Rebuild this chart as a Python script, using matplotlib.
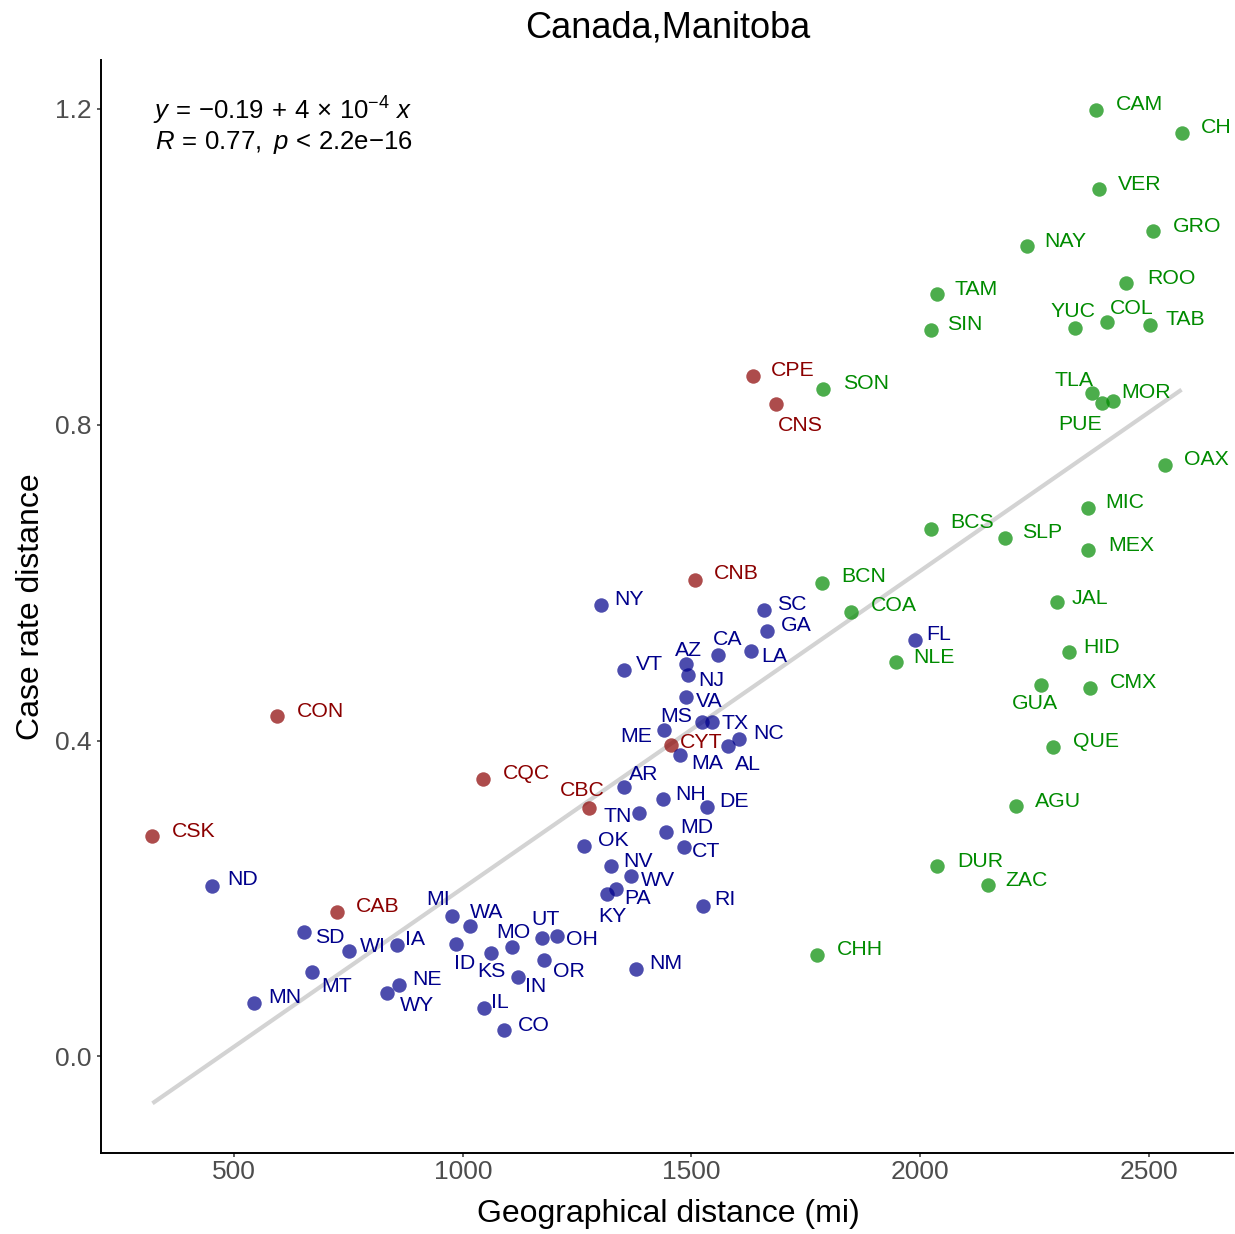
import numpy as np
import matplotlib
matplotlib.use("Agg")
import matplotlib.pyplot as plt

plt.rcParams["font.family"] = ["Liberation Sans", "DejaVu Sans"]
plt.rcParams["mathtext.fontset"] = "custom"
plt.rcParams["mathtext.rm"] = "Liberation Sans"
plt.rcParams["mathtext.it"] = "Liberation Sans:italic"

# Canadian provinces / territories
ca_names = ["CSK", "CON", "CAB", "CQC", "CBC", "CYT", "CNB", "CPE", "CNS"]
ca_geo = [321, 594, 725, 1043, 1275, 1456, 1507, 1634, 1686]
ca_rate = [0.279, 0.431, 0.183, 0.351, 0.315, 0.395, 0.604, 0.862, 0.826]

# US states
us_names = ["ND", "MN", "SD", "MT", "WI", "IA", "WY", "NE", "MI", "WA", "ID", "KS",
            "MO", "UT", "OH", "OR", "IN", "IL", "CO", "OK", "NV", "WV", "PA", "KY",
            "TN", "AR", "NH", "MD", "CT", "DE", "RI", "NM", "ME", "MA", "MS", "TX",
            "AL", "NC", "VA", "NJ", "AZ", "CA", "LA", "GA", "SC", "VT", "NY", "FL"]
us_geo = [452, 544, 653, 669, 750, 857, 835, 861, 977, 1016, 986, 1062,
          1108, 1172, 1205, 1178, 1121, 1047, 1091, 1264, 1323, 1367, 1334, 1316,
          1386, 1353, 1437, 1445, 1483, 1535, 1526, 1378, 1439, 1474, 1524, 1546,
          1581, 1605, 1489, 1493, 1489, 1559, 1631, 1666, 1658, 1353, 1303, 1990]
us_rate = [0.216, 0.068, 0.158, 0.107, 0.133, 0.141, 0.080, 0.090, 0.178, 0.165, 0.143, 0.131,
           0.139, 0.150, 0.152, 0.122, 0.101, 0.062, 0.033, 0.267, 0.241, 0.229, 0.212, 0.206,
           0.308, 0.341, 0.326, 0.284, 0.265, 0.316, 0.191, 0.111, 0.413, 0.382, 0.423, 0.423,
           0.393, 0.402, 0.455, 0.483, 0.497, 0.509, 0.513, 0.539, 0.566, 0.490, 0.572, 0.528]

# Mexican states
mx_names = ["CAM", "CH", "VER", "GRO", "NAY", "ROO", "YUC", "COL", "TAB", "TLA", "PUE",
            "MOR", "OAX", "MIC", "MEX", "BCS", "SLP", "JAL", "HID", "CMX", "GUA", "NLE",
            "BCN", "COA", "SON", "TAM", "SIN", "QUE", "AGU", "DUR", "ZAC", "CHH"]
mx_geo = [2384, 2572, 2391, 2509, 2233, 2450, 2340, 2408, 2502, 2377, 2397,
          2423, 2535, 2367, 2367, 2025, 2185, 2299, 2325, 2371, 2264, 1947,
          1785, 1850, 1787, 2036, 2025, 2290, 2209, 2038, 2148, 1774]
mx_rate = [1.199, 1.169, 1.098, 1.045, 1.026, 0.979, 0.923, 0.930, 0.926, 0.840, 0.828,
           0.830, 0.749, 0.695, 0.642, 0.668, 0.657, 0.575, 0.512, 0.467, 0.471, 0.499,
           0.600, 0.563, 0.845, 0.965, 0.920, 0.392, 0.317, 0.241, 0.217, 0.129]

# label nudges in pixels (dx right, dy up), default to the upper right of the point
DEFAULT_NUDGE = (18, 7)
NUDGE = {
    "CAM": (20, 7), "CH": (19, 8), "VER": (19, 7), "GRO": (20, 7), "ROO": (21, 7),
    "YUC": (-25, 18), "COL": (3, 16), "TAB": (16, 8), "TLA": (-38, 15),
    "PUE": (-43, -20), "MOR": (8, 11), "OAX": (19, 8), "MIC": (17, 7),
    "MEX": (20, 6), "BCS": (19, 8), "SLP": (17, 7), "JAL": (15, 6), "HID": (15, 7),
    "CMX": (20, 7), "GUA": (-29, -17), "FL": (11, 7), "NLE": (17, 7),
    "BCN": (19, 8), "COA": (19, 8), "SON": (20, 8), "SIN": (16, 7),
    "CNS": (1, -19), "CNB": (19, 8), "QUE": (20, 7), "AGU": (19, 7),
    "DUR": (20, 7), "CHH": (20, 7), "CON": (20, 7), "CSK": (19, 7), "ND": (15, 8),
    "CAB": (19, 7), "CQC": (20, 8), "CBC": (-29, 19), "CYT": (9, 4),
    "NY": (13, 7), "SC": (13, 7), "GA": (14, 7), "CA": (-6, 17), "LA": (10, -3),
    "AZ": (-11, 16), "NJ": (10, -3), "VT": (12, 7), "VA": (9, -2), "MS": (-42, 8),
    "TX": (9, 1), "ME": (-43, -4), "NC": (14, 8), "MA": (12, -7), "AL": (6, -16),
    "AR": (5, 15), "NH": (13, 7), "DE": (12, 7), "TN": (-36, -1), "MD": (14, 7),
    "CT": (8, -2), "OK": (14, 7), "NV": (13, 7), "WV": (10, -3), "PA": (9, -7),
    "KY": (-9, -21), "RI": (11, 8), "NM": (14, 7), "MI": (-26, 18), "WA": (0, 16),
    "ID": (-2, -18), "KS": (-14, -16), "MO": (-16, 16), "UT": (-10, 21),
    "OH": (9, -1), "OR": (9, -9), "IN": (7, -8), "IL": (7, 7), "CO": (13, 7),
    "SD": (11, -4), "WI": (11, 7), "IA": (8, 8), "MT": (10, -13), "MN": (14, 7),
    "NE": (13, 8), "WY": (12, -10),
}
CAP_HALF = 7.5  # half cap height of the labels, px

groups = [
    (ca_names, ca_geo, ca_rate, "#8B0000"),
    (us_names, us_geo, us_rate, "#00008B"),
    (mx_names, mx_geo, mx_rate, "#008B00"),
]

all_x = np.array(ca_geo + us_geo + mx_geo, dtype=float)
all_y = np.array(ca_rate + us_rate + mx_rate, dtype=float)
slope, intercept = np.polyfit(all_x, all_y, 1)
fx = np.array([all_x.min(), all_x.max()])
fy = intercept + slope * fx

fig = plt.figure(figsize=(12.35, 12.34), dpi=100)
W, H = 1235, 1234
ax = fig.add_axes([101 / W, 1 - 1153 / H, (1233 - 101) / W, (1153 - 60) / H])

ax.plot(fx, fy, color="#D3D3D3", lw=3, solid_capstyle="butt", zorder=1)

for names, gx, gy, col in groups:
    ax.scatter(gx, gy, s=108, color=col, alpha=0.7, linewidths=0, zorder=2)
    for n, xv, yv in zip(names, gx, gy):
        dx, dy = NUDGE.get(n, DEFAULT_NUDGE)
        ax.annotate(n, (xv, yv), xytext=(dx, dy - CAP_HALF), textcoords="offset pixels",
                    ha="left", va="baseline", fontsize=15.3, color=col, zorder=3)

# axis limits: data range plus 5% each side
xr = all_x.max() - all_x.min()
ylo = min(all_y.min(), fy.min())
yhi = max(all_y.max(), fy.max())
yr = yhi - ylo
ax.set_xlim(all_x.min() - 0.05 * xr, all_x.max() + 0.05 * xr)
ax.set_ylim(ylo - 0.05 * yr, yhi + 0.05 * yr)

ax.set_xticks([500, 1000, 1500, 2000, 2500])
ax.set_yticks([0.0, 0.4, 0.8, 1.2])
ax.set_yticklabels(["0.0", "0.4", "0.8", "1.2"])
for s in ["top", "right"]:
    ax.spines[s].set_visible(False)
for s in ["left", "bottom"]:
    ax.spines[s].set_linewidth(1.4)
    ax.spines[s].set_color("black")
ax.tick_params(axis="both", length=3, width=1.1, color="#333333",
               labelsize=19, labelcolor="#4D4D4D")
ax.tick_params(axis="x", pad=2)
ax.tick_params(axis="y", pad=4)

fig.text(668 / W, 1 - 38 / H, "Canada,Manitoba", ha="center", va="baseline", fontsize=26)
fig.text(668 / W, 1 - 1222 / H, "Geographical distance (mi)", ha="center",
         va="baseline", fontsize=23)
fig.text(31 / W, 1 - 607 / H, "Case rate distance", ha="center", va="center",
         rotation=90, fontsize=23)

# regression equation and correlation
fig.text(153 / W, 1 - 120 / H,
         r"$y\,=\,{-}0.19\,+\,4\,\times\,10^{-4}\ x$",
         ha="left", va="baseline", fontsize=18.5)
fig.text(155 / W, 1 - 149 / H,
         r"$R\,=\,0.77,\ p\,<\,2.2\mathrm{e}{-}16$",
         ha="left", va="baseline", fontsize=18.5)

fig.savefig("out.png", dpi=100)
